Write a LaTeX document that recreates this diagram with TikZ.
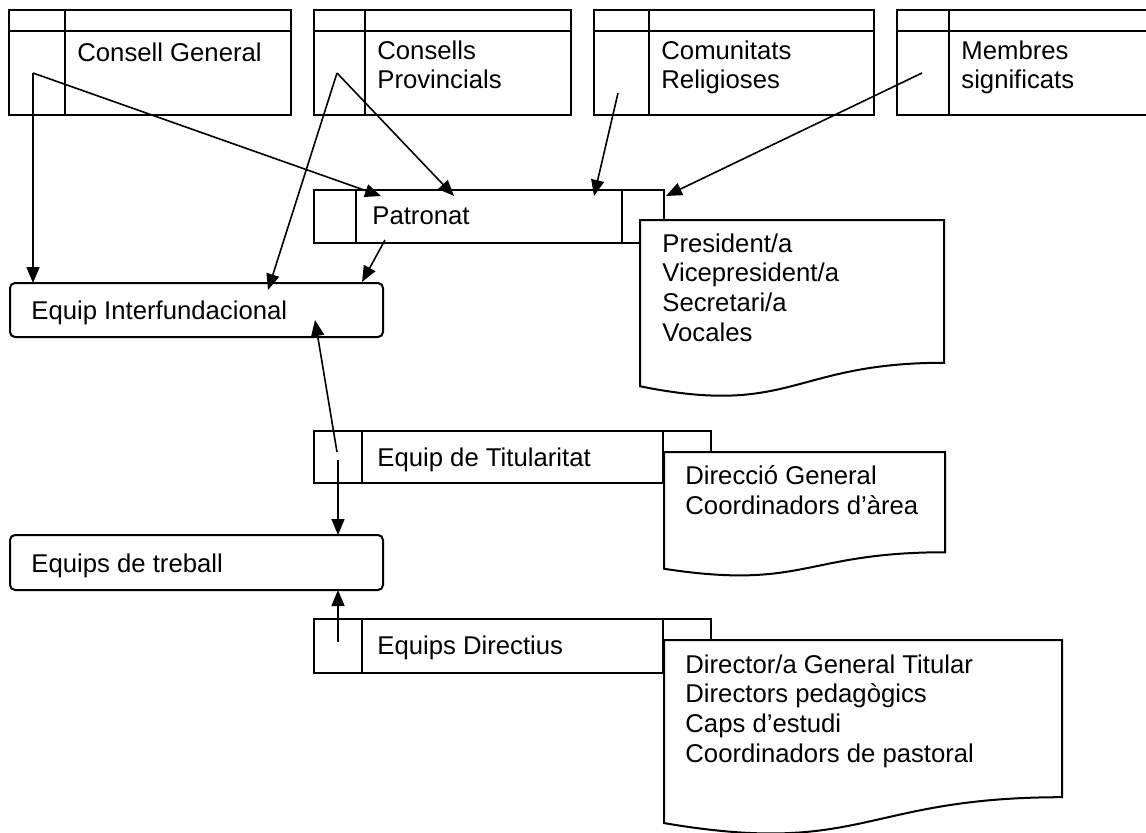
\documentclass[tikz,border=0pt]{standalone}
\usepackage{fontspec}
\setmainfont{Liberation Sans}
\usetikzlibrary{arrows.meta}

\tikzset{
  box/.style={draw, line width=1pt, fill=white},
  lbl/.style={anchor=north west, inner sep=0pt, align=left,
    font=\fontsize{12.85pt}{14.85pt}\selectfont, execute at begin node=\strut},
  arr/.style={line width=0.8pt, -{Triangle[length=8pt,width=6.5pt]}},
}
\newcommand{\docshape}[4]{%
  \draw[box] (#1,#2) -- ({#1+#3},#2) -- ({#1+#3},{#2+0.802*#4})
    .. controls ({#1+0.5*#3},{#2+0.802*#4}) and ({#1+0.5*#3},{#2+1.107*#4})
    .. (#1,{#2+0.934*#4}) -- cycle;}

\begin{document}
\begin{tikzpicture}[x=0.5pt, y=-0.5pt]
  \useasboundingbox (0,0) rectangle (1146,832);
  \clip (0,0) rectangle (1146,832);

  % top row
  \foreach \xa/\xv/\xb/\nm/\txt in {9/65/291/cg/{Consell General},
      314/365/571/cp/{Consells\\Provincials},
      594/649/874/cr/{Comunitats\\Religioses},
      897/949/1160/ms/{Membres\\significats}} {
    \draw[box] (\xa,10) rectangle (\xb,115);
    \draw[line width=1pt] (\xa,31) -- (\xb,31) (\xv,10) -- (\xv,115);
    \node[lbl] (\nm) at (\xv+12,40) {\txt};
  }

  % patronat
  \draw[box] (314,190) rectangle (622,243);
  \draw[line width=1pt] (356,190) -- (356,243);
  \draw[box] (622,190) rectangle (664,243);
  \node[lbl] (pat) at (372,203) {Patronat};
  \docshape{640}{220}{304}{178}
  \node[lbl] (patdoc) at (662,233) {President/a\\Vicepresident/a\\Secretari/a\\Vocales};

  \draw[box, rounded corners=2.5pt] (10,283) rectangle (383,337);
  \node[lbl] (ei) at (31,298) {Equip Interfundacional};

  % equip de titularitat
  \draw[box] (314,431) rectangle (663,483);
  \draw[line width=1pt] (362,431) -- (362,483);
  \draw[box] (663,431) rectangle (711,483);
  \node[lbl] (tit) at (377,445) {Equip de Titularitat};
  \docshape{664}{452}{281}{125}
  \node[lbl] (titdoc) at (685,465) {Direcció General\\Coordinadors d’àrea};

  \draw[box, rounded corners=2.5pt] (10,535) rectangle (383,590);
  \node[lbl] (et) at (31,551) {Equips de treball};

  % equips directius
  \draw[box] (314,619) rectangle (663,673);
  \draw[line width=1pt] (362,619) -- (362,673);
  \draw[box] (663,619) rectangle (711,673);
  \node[lbl] (dir) at (377,633) {Equips Directius};
  \docshape{664}{640}{398}{196}
  \node[lbl] (dirdoc) at (685,654) {Director/a General Titular\\Directors pedagògics\\Caps d’estudi\\Coordinadors de pastoral};

  % connectors
  \coordinate (cg-s) at (33,73);
  \coordinate (cp-s) at (337,73);
  \coordinate (cr-s) at (618,93);
  \coordinate (ms-s) at (922,73);
  \coordinate (pat-s) at (385,240);
  \coordinate (tit-s1) at (337,452);
  \coordinate (tit-s2) at (338,460);
  \coordinate (dir-s) at (338,642);
  \coordinate (ei-a) at (33,283);
  \coordinate (ei-b) at (268,290);
  \coordinate (ei-c) at (362,282);
  \coordinate (ei-d) at (315,320);
  \coordinate (pat-a) at (381,196);
  \coordinate (pat-b) at (454,196);
  \coordinate (pat-c) at (594,196);
  \coordinate (pat-d) at (666,196);
  \coordinate (et-a) at (338,535);
  \coordinate (et-b) at (338,590);

  \draw[arr] (cg-s) -- (ei-a);
  \draw[arr] (cg-s) -- (pat-a);
  \draw[arr] (cp-s) -- (pat-b);
  \draw[arr] (cp-s) -- (ei-b);
  \draw[arr] (cr-s) -- (pat-c);
  \draw[arr] (ms-s) -- (pat-d);
  \draw[arr] (pat-s) -- (ei-c);
  \draw[arr] (tit-s1) -- (ei-d);
  \draw[arr] (tit-s2) -- (et-a);
  \draw[arr] (dir-s) -- (et-b);
\end{tikzpicture}
\end{document}
